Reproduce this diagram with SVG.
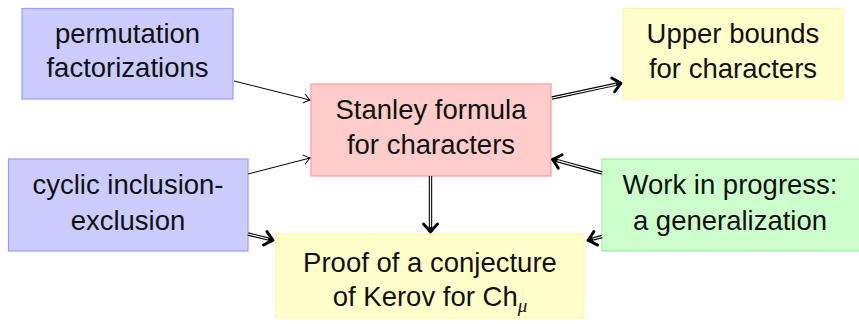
<svg xmlns="http://www.w3.org/2000/svg" width="859" height="324" viewBox="0 0 859 324">
<style>
  text { font-family: "Liberation Sans", Arial, sans-serif; font-size: 27.5px; fill: #111; text-anchor: middle; }
  .blue rect { fill: #ccccff; stroke: #9a9aff; stroke-width: 1.2; }
  .red rect { fill: #ffcccc; stroke: #ff9999; stroke-width: 1.2; }
  .yellow rect { fill: #ffffcc; stroke: #fff5a8; stroke-width: 1.2; }
  .green rect { fill: #ccffcc; stroke: #99ee99; stroke-width: 1.2; }
  .single { stroke: #000; stroke-width: 1; fill: none; }
  .dbl-o { stroke: #000; stroke-width: 3.4; fill: none; }
  .dbl-i { stroke: #fff; stroke-width: 1.2; fill: none; }
</style>
<defs>
  <marker id="thin" markerUnits="userSpaceOnUse" markerWidth="14" markerHeight="14" viewBox="-10 -7 12 14" refX="0" refY="0" orient="auto">
    <path d="M-6,-4.5 Q-1.5,-0.8 0,0 Q-1.5,0.8 -6,4.5" stroke="#000" stroke-width="1" fill="none" stroke-linecap="round"/>
  </marker>
  <marker id="thick" markerUnits="userSpaceOnUse" markerWidth="20" markerHeight="20" viewBox="-12 -10 16 20" refX="0" refY="0" orient="auto">
    <path d="M-8,-7 Q-2,-1.5 0,0 Q-2,1.5 -8,7" stroke="#000" stroke-width="2.9" fill="none" stroke-linecap="round" stroke-linejoin="round"/>
  </marker>
</defs>

<g id="perm" class="blue">
  <rect x="22" y="8.5" width="211" height="90.5"/>
  <text x="127.5" y="43">permutation</text>
  <text x="127.5" y="77">factorizations</text>
</g>
<g id="stanley" class="red">
  <rect x="311" y="84" width="240" height="92"/>
  <text x="431" y="119">Stanley formula</text>
  <text x="431" y="154">for characters</text>
</g>
<g id="upper" class="yellow">
  <rect x="623.5" y="8.5" width="219.5" height="91"/>
  <text x="733" y="43">Upper bounds</text>
  <text x="733" y="78">for characters</text>
</g>
<g id="cyclic" class="blue">
  <rect x="8.5" y="159" width="239.5" height="92"/>
  <text x="128" y="194">cyclic inclusion-</text>
  <text x="128" y="230">exclusion</text>
</g>
<g id="work" class="green">
  <rect x="602" y="159" width="260" height="92"/>
  <text x="730" y="194">Work in progress:</text>
  <text x="730" y="230">a generalization</text>
</g>
<g id="proof" class="yellow">
  <rect x="276" y="234" width="308" height="84"/>
  <text x="430" y="272">Proof of a conjecture</text>
  <text x="430" y="306">of Kerov for Ch<tspan font-size="19" font-style="italic" font-family="Liberation Serif, serif" dy="6">μ</tspan></text>
</g>

<g id="connectors">
  <path class="single" d="M234,81 L310,100" marker-end="url(#thin)"/>
  <path class="single" d="M248,174 L310,158" marker-end="url(#thin)"/>

  <path class="dbl-o" d="M552,98 L621,83.2" marker-end="url(#thick)"/>
  <path class="dbl-i" d="M552,98 L616,84.3"/>

  <path class="dbl-o" d="M602,173 L552.5,159.3" marker-end="url(#thick)"/>
  <path class="dbl-i" d="M602,173 L557.5,160.6"/>

  <path class="dbl-o" d="M430.5,176 L430.5,232" marker-end="url(#thick)"/>
  <path class="dbl-i" d="M430.5,176 L430.5,227"/>

  <path class="dbl-o" d="M248,234 L273,240.2" marker-end="url(#thick)"/>
  <path class="dbl-i" d="M248,234 L268.2,239"/>

  <path class="dbl-o" d="M602,236.5 L588,240.3" marker-end="url(#thick)"/>
  <path class="dbl-i" d="M602,236.5 L592.8,239"/>
</g>
</svg>
